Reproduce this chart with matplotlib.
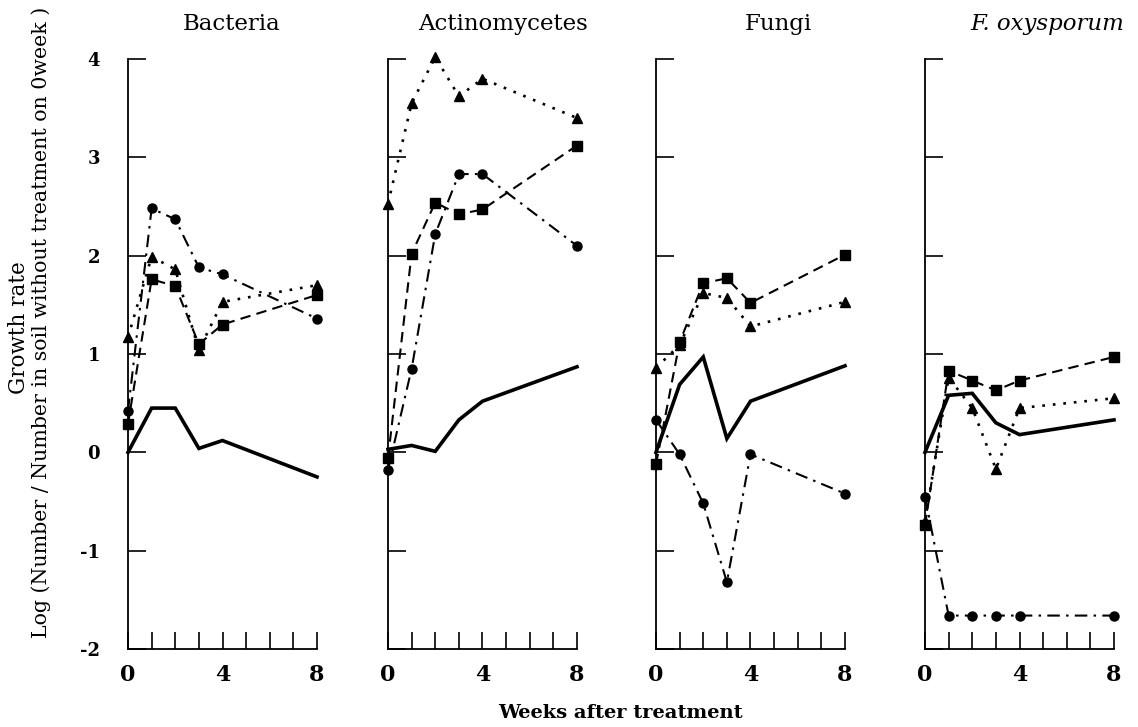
import matplotlib.pyplot as plt

weeks = [0, 1, 2, 3, 4, 8]
panel_titles = ["Bacteria", "Actinomycetes", "Fungi", "F. oxysporum"]

# one list per panel: Bacteria, Actinomycetes, Fungi, F. oxysporum
solid_vals = [
    [0.0, 0.45, 0.45, 0.04, 0.12, -0.25],
    [0.03, 0.07, 0.01, 0.33, 0.52, 0.87],
    [0.0, 0.69, 0.97, 0.14, 0.52, 0.88],
    [0.0, 0.58, 0.60, 0.30, 0.18, 0.33],
]
circle_vals = [
    [0.42, 2.48, 2.37, 1.88, 1.81, 1.36],
    [-0.18, 0.85, 2.22, 2.83, 2.83, 2.10],
    [0.33, -0.02, -0.52, -1.32, -0.02, -0.42],
    [-0.45, -1.66, -1.66, -1.66, -1.66, -1.66],
]
square_vals = [
    [0.29, 1.76, 1.69, 1.10, 1.30, 1.60],
    [-0.06, 2.02, 2.54, 2.42, 2.47, 3.12],
    [-0.12, 1.12, 1.72, 1.77, 1.52, 2.01],
    [-0.74, 0.83, 0.73, 0.63, 0.73, 0.97],
]
triangle_vals = [
    [1.17, 1.99, 1.86, 1.04, 1.53, 1.70],
    [2.53, 3.55, 4.02, 3.62, 3.80, 3.40],
    [0.86, 1.09, 1.62, 1.57, 1.28, 1.53],
    [-0.70, 0.76, 0.45, -0.17, 0.45, 0.55],
]

xticks = list(range(9))
xticklabels = ["0", "", "", "", "4", "", "", "", "8"]
yticks = [-2, -1, 0, 1, 2, 3, 4]

plt.rcParams["font.family"] = "DejaVu Serif"

W, H = 1138, 727
fig = plt.figure(figsize=(W / 100, H / 100), dpi=100)

lefts = [128, 388, 656, 925]
title_x = [232, 503, 778, 1047]
ax_w, top, bottom = 189, 59, 649

for i in range(4):
    ax = fig.add_axes([lefts[i] / W, (H - bottom) / H, ax_w / W, (bottom - top) / H])
    ax.plot(weeks, solid_vals[i], color="black", lw=2.6, ls="-",
            solid_joinstyle="miter", clip_on=False)
    ax.plot(weeks, circle_vals[i], color="black", lw=1.5, ls=(0, (6, 3, 1.2, 3)),
            marker="o", ms=6.5, clip_on=False)
    ax.plot(weeks, square_vals[i], color="black", lw=1.5, ls=(0, (5, 3)),
            marker="s", ms=6.5, clip_on=False)
    ax.plot(weeks, triangle_vals[i], color="black", lw=1.9, ls=(0, (1, 3)),
            marker="^", ms=6.5, clip_on=False)

    ax.set_xlim(0, 8)
    ax.set_ylim(-2, 4)
    for s in ["top", "right"]:
        ax.spines[s].set_visible(False)
    for s in ["left", "bottom"]:
        ax.spines[s].set_linewidth(1.3)

    ax.set_xticks(xticks)
    ax.set_xticklabels(xticklabels, fontsize=16, fontweight="bold")
    ax.tick_params(axis="x", direction="in", length=12, width=1.2, pad=11)
    ax.set_yticks(yticks)
    if i == 0:
        ax.set_yticklabels([str(v) for v in yticks], fontsize=13, fontweight="bold")
    else:
        ax.set_yticklabels([])
    ax.tick_params(axis="y", direction="in", length=13, width=1.2, pad=20)

    style = "italic" if i == 3 else "normal"
    fig.text(title_x[i] / W, 1 - 24 / H, panel_titles[i], fontsize=16.5,
             style=style, ha="center", va="center")

fig.text(620 / W, 1 - 713 / H, "Weeks after treatment", fontsize=14,
         fontweight="bold", ha="center", va="center")
fig.text(19 / W, 1 - 328 / H, "Growth rate", fontsize=15.5, rotation=90,
         ha="center", va="center")
fig.text(41 / W, 1 - 322 / H,
         "Log (Number / Number in soil without treatment on 0week )",
         fontsize=14.8, rotation=90, ha="center", va="center")

fig.savefig("out.png", dpi=100)
